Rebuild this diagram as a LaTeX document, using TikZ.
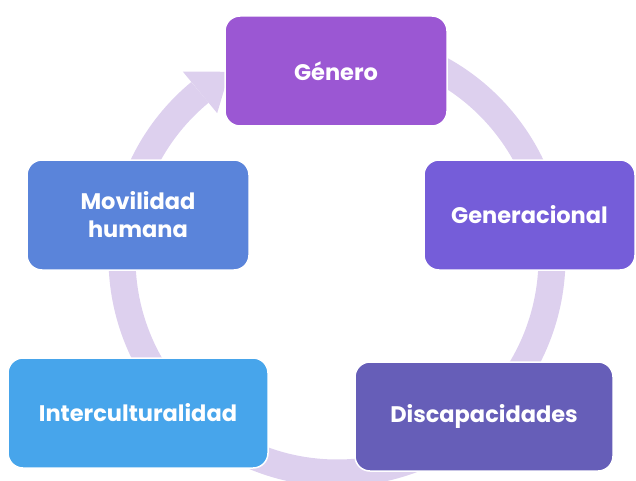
\documentclass[tikz,border=0pt]{standalone}
\usepackage{fontspec}
\setmainfont{Poppins}
\usetikzlibrary{calc}
\definecolor{ringc}{HTML}{DDD0EE}
\definecolor{cGen}{HTML}{9B57D3}
\definecolor{cGeneracional}{HTML}{755DD9}
\definecolor{cDisc}{HTML}{665EB8}
\definecolor{cInter}{HTML}{47A5EB}
\definecolor{cMov}{HTML}{5A84DA}
\begin{document}
\begin{tikzpicture}[x=1pt,y=1pt,
  box/.style={draw=white, line width=1.5pt, rounded corners=15pt, text=white,
    font=\fontsize{22.5}{28}\selectfont\bfseries, align=center, inner sep=0pt},
  ringline/.style={draw=ringc, line width=27pt}]
\useasboundingbox (0,0) rectangle (636,480);
\coordinate (c) at (337,222);
% ring
\draw[ringline] (c) ++(129.6:215) arc[start angle=129.6, end angle=440, radius=215];
% arrow head
\fill[ringc] ($(c)+(129.6:242)$) -- ($(c)+(120:215)$) -- ($(c)+(129.6:188)$) -- cycle;
% boxes
\node[box, fill=cGen, minimum width=222pt, minimum height=110pt] (gen) at (336,409) {Género};
\node[box, fill=cGeneracional, minimum width=211pt, minimum height=110pt] (gnr) at (529.5,265) {Generacional};
\node[box, fill=cDisc, minimum width=258pt, minimum height=109pt] (dis) at (484,63.5) {Discapacidades};
\node[box, fill=cInter, minimum width=260pt, minimum height=110pt] (int) at (138,67) {Interculturalidad};
\node[box, fill=cMov, minimum width=222pt, minimum height=110pt] (mov) at (138,265) {Movilidad\\humana};
\end{tikzpicture}
\end{document}
